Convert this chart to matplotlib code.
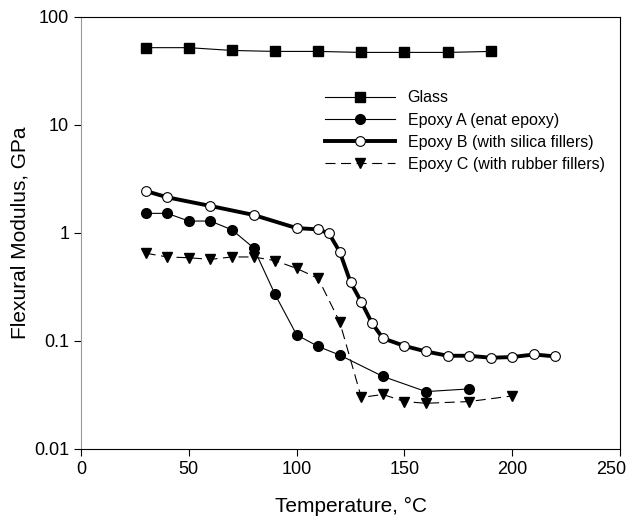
import matplotlib
matplotlib.use("Agg")
import matplotlib.pyplot as plt
import matplotlib.transforms as mtransforms

plt.rcParams["font.family"] = ["Liberation Sans", "DejaVu Sans"]

# Data
glass_t = [30, 50, 70, 90, 110, 130, 150, 170, 190]
glass_e = [52, 52, 49, 48, 48, 47, 47, 47, 48]

epoxy_a_t = [30, 40, 50, 60, 70, 80, 90, 100, 110, 120, 140, 160, 180]
epoxy_a_e = [1.52, 1.52, 1.29, 1.29, 1.07, 0.73, 0.27, 0.114, 0.089, 0.074, 0.047, 0.034, 0.036]

epoxy_b_t = [30, 40, 60, 80, 100, 110, 115, 120, 125, 130, 135, 140, 150, 160, 170, 180, 190, 200, 210, 220]
epoxy_b_e = [2.45, 2.14, 1.78, 1.47, 1.11, 1.08, 0.99, 0.67, 0.35, 0.23, 0.146, 0.106,
             0.090, 0.080, 0.073, 0.073, 0.070, 0.071, 0.075, 0.072]

epoxy_c_t = [30, 40, 50, 60, 70, 80, 90, 100, 110, 120, 130, 140, 150, 160, 180, 200]
epoxy_c_e = [0.65, 0.60, 0.59, 0.57, 0.60, 0.60, 0.555, 0.47, 0.38, 0.15, 0.030, 0.032,
             0.0275, 0.0265, 0.0275, 0.031]

x_ticks = [0, 50, 100, 150, 200, 250]
y_ticks = [0.01, 0.1, 1, 10, 100]
y_labels = ["0.01", "0.1", "1", "10", "100"]

fig = plt.figure(figsize=(6.31, 5.23), dpi=100)
ax = fig.add_axes([0.1284, 0.1415, 0.8542, 0.8260])

ax.plot(glass_t, glass_e, color="black", lw=0.8, marker="s", ms=7,
        mfc="black", mec="black", label="Glass")
ax.plot(epoxy_a_t, epoxy_a_e, color="black", lw=0.8, marker="o", ms=7,
        mfc="black", mec="black", label="Epoxy A (enat epoxy)")
ax.plot(epoxy_b_t, epoxy_b_e, color="black", lw=2.8, marker="o", ms=7,
        mfc="white", mec="black", mew=0.8, label="Epoxy B (with silica fillers)")
ax.plot(epoxy_c_t, epoxy_c_e, color="black", lw=0.8, ls=(0, (9, 5)), marker="v", ms=7.5,
        mfc="black", mec="black", label="Epoxy C (with rubber fillers)")

ax.set_yscale("log")
ax.set_xlim(0, 250)
ax.set_ylim(0.01, 100)
ax.set_xticks(x_ticks)
ax.set_yticks(y_ticks)
ax.set_yticklabels(y_labels)
ax.minorticks_off()
ax.tick_params(direction="out", length=5, width=0.8, labelsize=13, colors="black")
ax.spines["left"].set_color("#999999")

# keep the last x tick label inside the figure
last = ax.get_xticklabels()[-1]
last.set_transform(last.get_transform() + mtransforms.ScaledTranslation(-6 / 72, 0, fig.dpi_scale_trans))

ax.set_xlabel("Temperature, °C", fontsize=15, labelpad=14)
ax.set_ylabel("Flexural Modulus, GPa", fontsize=15, labelpad=3)

ax.legend(loc="upper left", bbox_to_anchor=(0.44, 0.845), frameon=False, fontsize=11.5,
          handlelength=4.4, handletextpad=0.8, labelspacing=0.45, borderaxespad=0)

fig.savefig("out.png", dpi=100)
